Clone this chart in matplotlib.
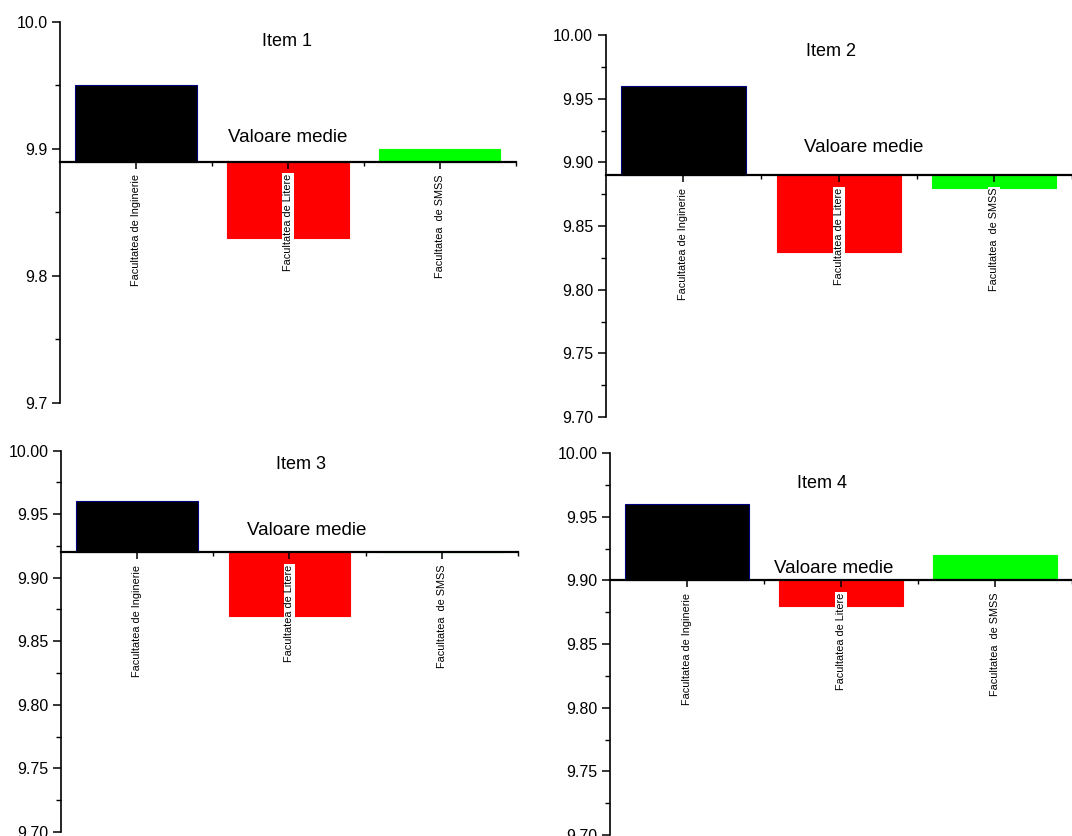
import matplotlib
matplotlib.use("Agg")
import matplotlib.pyplot as plt
from matplotlib.ticker import MultipleLocator, FormatStrFormatter, FixedLocator

plt.rcParams["font.family"] = ["Liberation Sans", "DejaVu Sans"]

categories = ["Facultatea de Inginerie", "Facultatea de Litere", "Facultatea  de SMSS"]
titles = ["Item 1", "Item 2", "Item 3", "Item 4"]
item1 = [9.95, 9.83, 9.90]
item2 = [9.96, 9.83, 9.88]
item3 = [9.96, 9.87, 9.92]
item4 = [9.96, 9.88, 9.92]
means = [9.89, 9.89, 9.92, 9.90]
items = [item1, item2, item3, item4]

colors = ["#000000", "#ff0000", "#00ff00"]
edges = ["#000080", "#ff0000", "#00ff00"]

# axes boxes [left, bottom, width, height] in figure fraction
boxes = [
    [0.056, 0.518, 0.425, 0.456],
    [0.565, 0.501, 0.435, 0.457],
    [0.057, 0.005, 0.426, 0.456],
    [0.569, 0.001, 0.431, 0.457],
]
title_pos = [(0.498, 0.948), (0.483, 0.958), (0.525, 0.963), (0.459, 0.921)]
mean_pos = [(0.50, 0.696), (0.554, 0.707), (0.538, 0.79), (0.485, 0.699)]

fig = plt.figure(figsize=(10.72, 8.36), dpi=100)

for i in range(4):
    ax = fig.add_axes(boxes[i])
    base = means[i]
    x = list(range(len(categories)))
    heights = [v - base for v in items[i]]
    ax.bar(x, heights, bottom=base, width=0.8, color=colors,
           edgecolor=edges, linewidth=0.8)

    ax.set_ylim(9.70, 10.00)
    ax.set_xlim(-0.5, 2.5)

    ax.spines["top"].set_visible(False)
    ax.spines["right"].set_visible(False)
    ax.spines["bottom"].set_position(("data", base))
    ax.spines["bottom"].set_linewidth(1.6)
    ax.spines["left"].set_linewidth(1.2)

    if i == 0:
        ax.yaxis.set_major_locator(MultipleLocator(0.1))
        ax.yaxis.set_minor_locator(MultipleLocator(0.05))
        ax.yaxis.set_major_formatter(FormatStrFormatter("%.1f"))
    else:
        ax.yaxis.set_major_locator(MultipleLocator(0.05))
        ax.yaxis.set_minor_locator(MultipleLocator(0.025))
        ax.yaxis.set_major_formatter(FormatStrFormatter("%.2f"))

    ax.set_xticks(x)
    ax.set_xticklabels(categories)
    ax.xaxis.set_minor_locator(FixedLocator([0.5, 1.5, 2.5]))

    ax.tick_params(axis="y", which="major", direction="out", length=6, width=1.1,
                   labelsize=11.5, pad=3)
    ax.tick_params(axis="y", which="minor", direction="out", length=3.5, width=1.0)
    ax.tick_params(axis="x", which="major", direction="out", length=5, width=1.1,
                   pad=4, labelsize=7.8, labelrotation=90)
    ax.tick_params(axis="x", which="minor", direction="out", length=3, width=1.0)

    for lbl in ax.get_xticklabels():
        lbl.set_va("top")
        lbl.set_bbox(dict(facecolor="white", edgecolor="none", pad=0.6))

    ax.text(title_pos[i][0], title_pos[i][1], titles[i], transform=ax.transAxes,
            ha="center", va="center", fontsize=13)
    ax.text(mean_pos[i][0], mean_pos[i][1], "Valoare medie", transform=ax.transAxes,
            ha="center", va="center", fontsize=13.5)

fig.savefig("out.png", dpi=100)
